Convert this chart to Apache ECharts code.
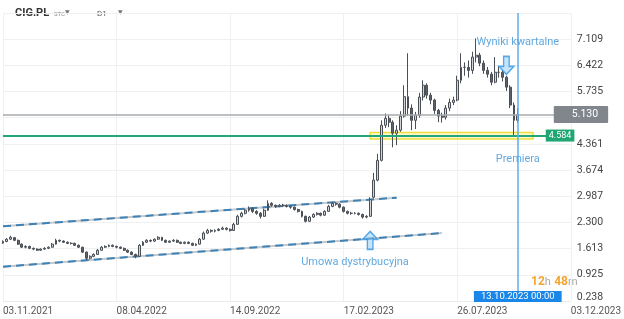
<!DOCTYPE html>
<html>
<head>
<meta charset="utf-8">
<script src="https://cdn.jsdelivr.net/npm/echarts@6/dist/echarts.min.js"></script>
<style>html,body{margin:0;padding:0;background:#fff}#main{width:624px;height:319px}</style>
</head>
<body>
<div id="main"></div>
<script>
// osie
var xTicks = ['03.11.2021', '08.04.2022', '14.09.2022', '17.02.2023', '26.07.2023', '03.12.2023'];
var yTicks = ['0.238', '0.925', '1.613', '2.300', '2.987', '3.674', '4.361', '', '5.735', '6.422', '7.109', ''];

// notowania CIG.PL (co ok. 4 sesje)
var opens = [1.76,1.80,1.86,1.90,1.83,1.73,1.65,1.67,1.62,1.60,1.57,1.60,1.62,1.65,1.73,1.83,1.81,1.78,1.75,1.75,
  1.70,1.65,1.52,1.36,1.41,1.46,1.57,1.65,1.67,1.70,1.67,1.65,1.62,1.57,1.52,1.46,1.41,1.70,1.78,1.83,
  1.81,1.86,1.91,1.83,1.78,1.81,1.83,1.78,1.75,1.78,1.75,1.70,1.73,1.86,2.02,2.09,2.07,2.09,2.12,2.15,
  2.12,2.09,2.25,2.46,2.54,2.62,2.67,2.59,2.54,2.46,2.62,2.80,2.75,2.72,2.75,2.75,2.72,2.70,2.64,2.59,
  2.46,2.33,2.44,2.51,2.54,2.49,2.59,2.72,2.80,2.78,2.70,2.59,2.54,2.54,2.54,2.51,2.44,2.46,2.96,3.41,
  3.93,4.85,5.03,4.93,4.64,4.72,5.09,5.60,5.30,4.98,5.11,5.59,5.90,5.64,5.51,5.24,5.09,5.06,5.30,5.45,
  5.51,6.03,6.37,6.37,6.29,6.64,6.69,6.48,6.29,6.19,5.98,6.24,6.24,6.11,5.85,5.38,4.98];
var closes = [1.80,1.86,1.91,1.83,1.73,1.65,1.67,1.62,1.60,1.57,1.60,1.62,1.65,1.73,1.83,1.81,1.78,1.75,1.75,1.70,
  1.65,1.52,1.36,1.41,1.46,1.57,1.65,1.67,1.70,1.67,1.65,1.62,1.57,1.52,1.46,1.41,1.70,1.78,1.83,1.81,
  1.86,1.91,1.83,1.78,1.81,1.83,1.78,1.75,1.78,1.75,1.70,1.73,1.86,2.02,2.09,2.07,2.09,2.12,2.15,2.12,
  2.09,2.25,2.46,2.54,2.62,2.67,2.59,2.54,2.46,2.62,2.80,2.75,2.72,2.75,2.75,2.72,2.70,2.64,2.59,2.46,
  2.33,2.44,2.51,2.54,2.49,2.59,2.72,2.80,2.78,2.70,2.59,2.54,2.54,2.54,2.51,2.44,2.46,2.90,3.41,3.93,
  4.85,5.03,4.93,4.64,4.72,5.09,5.60,5.30,4.98,5.11,5.59,5.90,5.64,5.51,5.24,5.09,5.06,5.30,5.45,5.51,
  6.03,6.37,6.37,6.29,6.64,6.69,6.48,6.29,6.19,5.98,6.24,6.24,6.11,5.85,5.38,4.98,5.13];
var lows = [1.74,1.78,1.84,1.81,1.71,1.63,1.62,1.60,1.57,1.55,1.55,1.58,1.60,1.64,1.72,1.78,1.76,1.73,1.72,1.68,
  1.63,1.50,1.31,1.33,1.39,1.45,1.56,1.63,1.65,1.65,1.62,1.60,1.55,1.50,1.44,1.36,1.40,1.68,1.76,1.78,
  1.79,1.84,1.81,1.76,1.76,1.79,1.76,1.73,1.73,1.73,1.68,1.68,1.72,1.85,2.00,2.03,2.04,2.07,2.10,2.09,
  2.06,2.08,2.24,2.43,2.51,2.58,2.55,2.50,2.40,2.45,2.60,2.71,2.68,2.70,2.71,2.69,2.66,2.61,2.56,2.43,
  2.30,2.31,2.42,2.48,2.46,2.47,2.58,2.70,2.74,2.67,2.56,2.51,2.50,2.51,2.48,2.40,2.41,2.45,2.94,3.38,
  3.90,4.78,4.80,4.27,4.33,4.68,5.05,5.10,4.72,4.75,5.05,5.50,5.55,5.40,5.15,4.93,4.92,5.00,5.22,5.38,
  5.48,5.95,6.15,6.10,6.20,6.50,6.40,6.20,6.10,5.90,5.95,6.10,6.00,5.75,5.30,4.58,4.92];
var highs = [1.83,1.89,1.95,1.92,1.85,1.75,1.70,1.69,1.64,1.62,1.62,1.65,1.67,1.76,1.87,1.85,1.83,1.80,1.78,1.77,
  1.72,1.66,1.54,1.44,1.49,1.60,1.68,1.70,1.72,1.72,1.69,1.67,1.64,1.59,1.54,1.48,1.73,1.81,1.86,1.85,
  1.88,1.94,1.92,1.85,1.83,1.86,1.85,1.80,1.80,1.80,1.77,1.75,1.89,2.06,2.13,2.12,2.12,2.15,2.19,2.17,
  2.14,2.29,2.50,2.58,2.66,2.72,2.70,2.62,2.57,2.66,2.88,2.83,2.77,2.78,2.79,2.77,2.74,2.72,2.66,2.61,
  2.48,2.47,2.54,2.57,2.56,2.62,2.76,2.84,2.83,2.80,2.72,2.61,2.58,2.57,2.56,2.53,2.49,2.96,3.60,4.10,
  4.98,5.16,5.12,4.98,4.85,5.22,5.90,6.74,5.40,5.20,5.70,6.03,5.95,5.70,5.55,5.28,5.18,5.38,5.55,5.60,
  6.15,6.74,6.50,6.55,6.78,7.13,6.75,6.55,6.38,6.25,6.64,6.40,6.30,6.15,5.90,5.45,5.30];

// poziomy i adnotacje
var lastPrice = 5.130;
var supportLevel = 4.584;
var zoneLow = 4.49, zoneHigh = 4.66, zoneFrom = 97, zoneTo = 140;
var upperChannel = [[0, 2.20], [104, 2.95]];
var lowerChannel = [[0, 1.14], [116, 2.02]];
var markerIndex = 136;
var markerLabel = '13.10.2023 00:00';
var arrows = [[97, 1.83, 0], [133, 6.42, 180]];
var notes = [['Umowa dystrybucyjna', 93, 1.25], ['Wyniki kwartalne', 136, 7.03], ['Premiera', 136, 3.96]];

var cats = [];
for (var i = 0; i <= 150; i++) cats.push(String(i));

var candles = [];
for (var i = 0; i < opens.length; i++) {
    candles.push([opens[i], closes[i], lows[i], highs[i]]);
}

var chart = echarts.init(document.getElementById('main'));
var blue = '#3a93d8';

option = {
    animation: false,
    textStyle: { fontFamily: 'Roboto, sans-serif' },
    grid: { left: 1, right: 52, top: 13, bottom: 18 },
    xAxis: {
        type: 'category',
        data: cats,
        boundaryGap: false,
        axisLine: { lineStyle: { color: '#ebebeb' } },
        axisTick: { show: false },
        axisLabel: {
            interval: function (i) { return i % 30 === 0; },
            formatter: function (v, i) { return xTicks[i / 30]; },
            align: 'left',
            color: '#555',
            fontSize: 10,
            margin: 5
        },
        splitLine: {
            show: true,
            interval: function (i) { return i % 30 === 0; },
            lineStyle: { color: '#f0f0f0' }
        }
    },
    yAxis: [
        { type: 'value', min: 0.238, max: 7.796, position: 'right', show: false },
        {
            type: 'value', min: 0, max: 11, interval: 1, position: 'right',
            axisLine: { show: false },
            axisTick: { show: false },
            axisLabel: {
                formatter: function (v) { return v === 0 ? '{low|' + yTicks[v] + '}' : yTicks[v]; },
                rich: { low: { padding: [0, 0, 8, 0], color: '#444', fontSize: 10.5 } },
                color: '#444',
                fontSize: 10.5,
                margin: 6
            },
            splitLine: { lineStyle: { color: '#f0f0f0' } }
        }
    ],
    graphic: [
        { type: 'text', left: 15, top: 8, style: { text: 'CIG.PL', font: 'bold 11px Roboto', fill: '#333' } },
        { type: 'text', left: 54, top: 11, style: { text: 'STC', font: '6px Roboto', fill: '#888' } },
        { type: 'text', left: 65, top: 9, style: { text: '▼', font: '6px DejaVu Sans', fill: '#777' } },
        { type: 'text', left: 97, top: 10, style: { text: 'D1', font: '8px Roboto', fill: '#555' } },
        { type: 'text', left: 118, top: 9, style: { text: '▼', font: '6px DejaVu Sans', fill: '#777' } },
        {
            type: 'text', left: 531, top: 276,
            style: {
                text: '{a|12}{b|h} {a|48}{b|m}',
                rich: {
                    a: { fill: '#f2a532', fontWeight: 'bold', fontSize: 12, fontFamily: 'Roboto' },
                    b: { fill: '#aaa', fontSize: 11, fontFamily: 'Roboto' }
                }
            }
        }
    ],
    series: [
        {
            type: 'line', data: upperChannel, symbol: 'none', silent: true,
            lineStyle: { color: '#c6c9cc', width: 2 }, z: 3
        },
        {
            type: 'line', data: upperChannel, symbol: 'none', silent: true,
            lineStyle: { color: '#3f82b6', width: 2, type: [8, 5] }, z: 3
        },
        {
            type: 'line', data: lowerChannel, symbol: 'none', silent: true,
            lineStyle: { color: '#c6c9cc', width: 2 }, z: 3
        },
        {
            type: 'line', data: lowerChannel, symbol: 'none', silent: true,
            lineStyle: { color: '#3f82b6', width: 2, type: [8, 5] }, z: 3
        },
        {
            type: 'candlestick',
            data: candles,
            barWidth: 2.4,
            z: 4,
            itemStyle: {
                color: '#d3d7dc',
                color0: '#5d636a',
                borderColor: '#4a4f56',
                borderColor0: '#4a4f56',
                borderWidth: 1
            },
            markArea: {
                silent: true,
                itemStyle: { color: 'rgba(250,238,110,0.35)', borderColor: '#f0dc3a', borderWidth: 1.5 },
                data: [[{ xAxis: String(zoneFrom), yAxis: zoneLow }, { xAxis: String(zoneTo), yAxis: zoneHigh }]]
            },
            markLine: {
                silent: true,
                symbol: ['none', 'none'],
                data: [
                    {
                        yAxis: lastPrice,
                        lineStyle: { color: '#a7abaf', width: 1.5, type: 'solid' },
                        label: {
                            position: 'end', distance: -17, formatter: lastPrice.toFixed(3),
                            backgroundColor: '#80868c', color: '#fff', fontSize: 10.5,
                            padding: [3, 10, 3, 18], borderRadius: 1
                        }
                    },
                    {
                        yAxis: supportLevel,
                        lineStyle: { color: '#22a67a', width: 2, type: 'solid' },
                        label: {
                            position: 'end', distance: -25, formatter: supportLevel.toFixed(3),
                            backgroundColor: '#20a673', color: '#fff', fontSize: 9,
                            padding: [2, 3, 1, 3]
                        }
                    },
                    {
                        xAxis: String(markerIndex),
                        lineStyle: { color: '#5caef0', width: 1.5, type: 'solid' },
                        label: {
                            position: 'start', distance: -10, formatter: markerLabel,
                            backgroundColor: '#1a86e8', color: '#fff', fontSize: 9.5,
                            padding: [1, 7, 0, 7]
                        }
                    }
                ]
            }
        },
        {
            type: 'scatter',
            silent: true,
            z: 6,
            symbol: 'path://M8,0 L16,9 L11,9 L11,20 L5,20 L5,9 L0,9 Z',
            symbolSize: [15, 18],
            data: arrows.map(function (a) { return { value: [a[0], a[1]], symbolRotate: a[2] }; }),
            itemStyle: { color: 'rgba(135,198,245,0.6)', borderColor: '#3596e0', borderWidth: 1.5 }
        },
        {
            type: 'scatter',
            silent: true,
            z: 6,
            symbolSize: 0,
            data: notes.map(function (n) { return { name: n[0], value: [n[1], n[2]] }; }),
            label: {
                show: true, position: 'inside', formatter: '{b}',
                color: blue, fontSize: 11, fontFamily: 'Roboto'
            }
        }
    ]
};

chart.setOption(option);
</script>
</body>
</html>
